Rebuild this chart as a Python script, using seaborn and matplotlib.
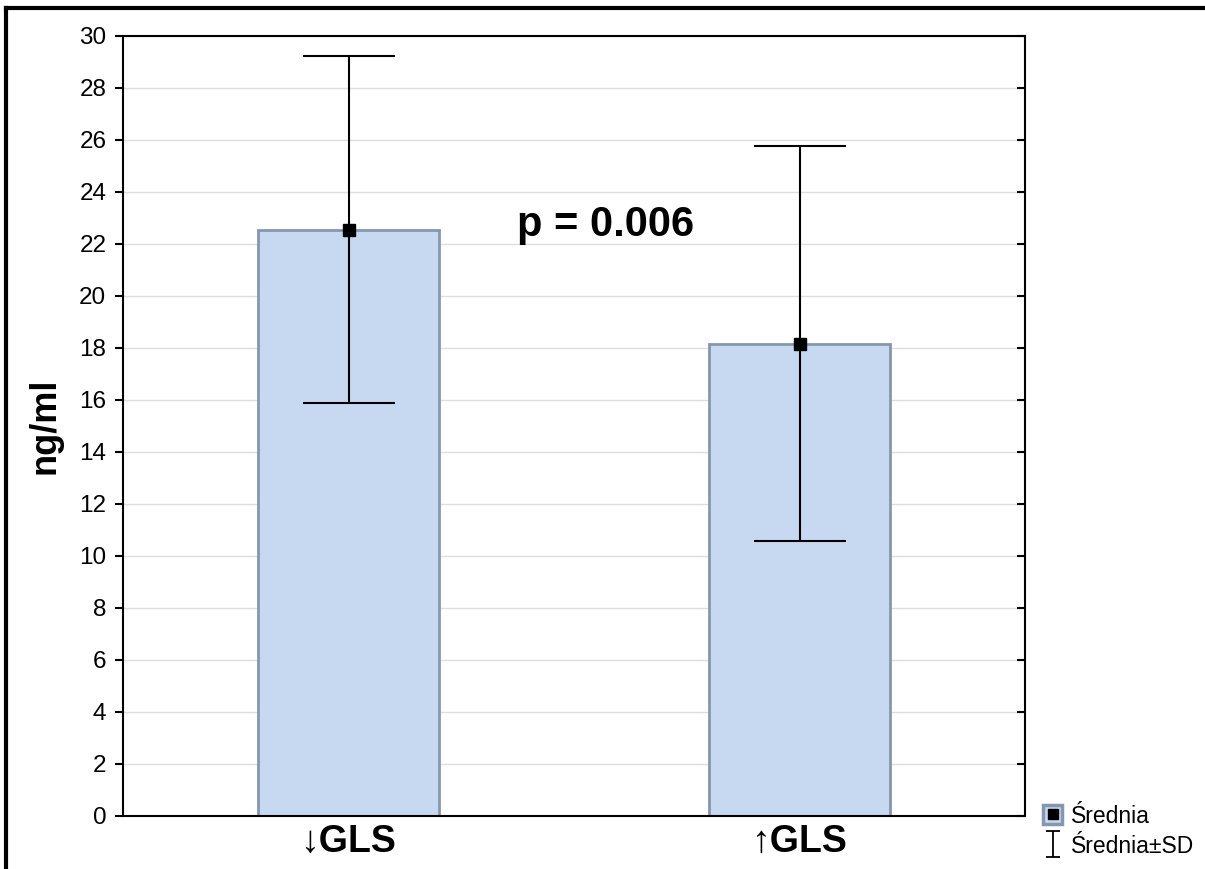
import matplotlib
matplotlib.use("Agg")
import matplotlib.pyplot as plt
import seaborn as sns
import pandas as pd
from matplotlib.patches import Patch
from matplotlib.lines import Line2D
from matplotlib.path import Path

categories = ["↓GLS", "↑GLS"]
means = [22.55, 18.17]
sds = [6.67, 7.60]
y_ticks = list(range(0, 31, 2))
p_text = "p = 0.006"
legend_labels = ["Średnia", "Średnia±SD"]

sns.set_theme(style="white")
plt.rcParams["font.family"] = ["Liberation Sans", "DejaVu Sans"]
plt.rcParams["text.color"] = "black"
plt.rcParams["axes.labelcolor"] = "black"
plt.rcParams["xtick.color"] = "black"
plt.rcParams["ytick.color"] = "black"

fig = plt.figure(figsize=(12.05, 8.69), dpi=100)
ax = fig.add_axes([123/1205, 1-816/869, (1025-123)/1205, (816-36)/869])

df = pd.DataFrame({"group": categories, "mean": means, "sd": sds})
sns.barplot(data=df, x="group", y="mean", order=categories, color="#c6d9f0",
            edgecolor="#8497b0", linewidth=2, width=0.4, saturation=1,
            errorbar=None, ax=ax, zorder=2)

xs = list(range(len(categories)))
ax.errorbar(xs, df["mean"], yerr=df["sd"], fmt="none", ecolor="black",
            elinewidth=1.5, capsize=33, capthick=1.5, zorder=3)
ax.plot(xs, df["mean"], linestyle="none", marker="s", markersize=8,
        color="black", zorder=4)

ax.set_xlim(-0.5, 1.5)
ax.set_ylim(0, 30)
ax.set_yticks(y_ticks)
ax.set_yticklabels([str(t) for t in y_ticks], fontsize=17.5)
ax.yaxis.grid(True, color="#dedede", linewidth=1)
ax.set_axisbelow(True)
ax.set_xlabel("")
ax.set_ylabel("ng/ml", fontsize=26, fontweight="bold", labelpad=12)
ax.set_xticks(xs)
ax.set_xticklabels(categories, fontsize=27, fontweight="bold",
                   family=["Liberation Sans", "DejaVu Sans"])
ax.tick_params(axis="y", which="both", left=True, right=True, direction="out",
               length=6, width=1.5, color="black", pad=6)
ax.tick_params(axis="y", which="both", right=True, labelright=False)
for t in ax.yaxis.get_major_ticks():
    t.tick2line.set_marker(matplotlib.markers.TICKLEFT)
ax.tick_params(axis="x", bottom=True, direction="in", length=6, width=1.5,
               color="black", pad=6)
for s in ax.spines.values():
    s.set_color("black")
    s.set_linewidth(1.5)

ax.text(0.57, 22.3, p_text, fontsize=30, fontweight="bold", ha="center",
        va="baseline", color="black", zorder=5)

# legend
ibeam = Path([(-0.55, 1), (0.55, 1), (0, 1), (0, -1), (-0.55, -1), (0.55, -1)],
             [Path.MOVETO, Path.LINETO, Path.MOVETO, Path.LINETO, Path.MOVETO, Path.LINETO])
h1 = (Patch(facecolor="#c6d9f0", edgecolor="#8497b0", linewidth=2.5),
      Line2D([], [], linestyle="none", marker="s", markersize=7, color="black"))
h2 = Line2D([], [], linestyle="none", marker=ibeam, markersize=19,
            markeredgewidth=1.3, color="black", markerfacecolor="none")
fig.legend([h1, h2], legend_labels, loc="lower left",
           bbox_to_anchor=(1025/1205, -0.008), frameon=False, fontsize=16.5,
           handlelength=0.8, handleheight=0.9, handletextpad=0.4,
           labelspacing=0.3, borderpad=0.3)

# outer frame: top and left edges only
fy = 1 - 8/869
fx = 6/1205
fig.add_artist(Line2D([fx, 1.0], [fy, fy], transform=fig.transFigure,
                      color="black", linewidth=3, solid_capstyle="projecting"))
fig.add_artist(Line2D([fx, fx], [fy, 0.0], transform=fig.transFigure,
                      color="black", linewidth=3, solid_capstyle="projecting"))

fig.savefig("out.png", dpi=100)
